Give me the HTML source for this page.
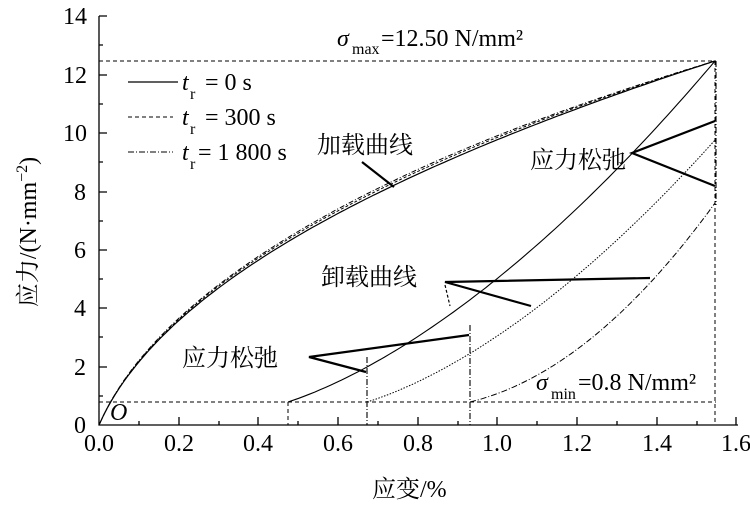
<!DOCTYPE html>
<html><head><meta charset="utf-8"><style>body{margin:0;background:#fff}svg{display:block}text{font-family:"Liberation Serif","Times New Roman",Times,"Noto Serif CJK SC",serif}</style></head><body>
<svg id="s" width="750" height="508" viewBox="0 0 750 508" xmlns="http://www.w3.org/2000/svg">
<g stroke="#000" fill="none" stroke-width="1.3">
<path d="M99,16V425H738"/>
<path d="M99,16h8M99,75h8M99,133h8M99,192h8M99,250h8M99,308h8M99,367h8M99,45h4M99,104h4M99,162h4M99,221h4M99,279h4M99,337h4M99,396h4"/>
<path d="M179,425v-8M258,425v-8M338,425v-8M418,425v-8M497,425v-8M577,425v-8M657,425v-8M736,425v-8M139,425v-4M219,425v-4M298,425v-4M378,425v-4M458,425v-4M537,425v-4M617,425v-4M697,425v-4"/>
</g>
<g font-size="24">
<text x="80" y="433" text-anchor="middle">0</text><text x="80" y="375" text-anchor="middle">2</text><text x="80" y="316" text-anchor="middle">4</text><text x="80" y="258" text-anchor="middle">6</text><text x="80" y="200" text-anchor="middle">8</text><text x="75" y="141" text-anchor="middle">10</text><text x="75" y="83" text-anchor="middle">12</text><text x="75" y="24" text-anchor="middle">14</text>
<text x="99" y="451" text-anchor="middle">0.0</text><text x="179" y="451" text-anchor="middle">0.2</text><text x="258" y="451" text-anchor="middle">0.4</text><text x="338" y="451" text-anchor="middle">0.6</text><text x="418" y="451" text-anchor="middle">0.8</text><text x="497" y="451" text-anchor="middle">1.0</text><text x="577" y="451" text-anchor="middle">1.2</text><text x="657" y="451" text-anchor="middle">1.4</text><text x="736" y="451" text-anchor="middle">1.6</text>
</g>
<g stroke="#000" fill="none" stroke-width="1" stroke-dasharray="4,3">
<path d="M99,61H716M99,402H716M715,61V425M288,402V425"/>
</g>
<g stroke="#000" fill="none" stroke-width="1.1" stroke-dasharray="6,2,1,2">
<path d="M367,357V425M470,325V425M716,61V205"/>
</g>
<g id="curves" fill="none" stroke="#000"></g>
<g stroke="#000" stroke-width="2.2" fill="none">
<path d="M715,121L632,153L715,186"/>
<path d="M362,162L394,187"/>
<path d="M650,278L445,282L531,306"/>
<path d="M469,335L309,357L366,372"/>
</g>
<path d="M445,285L450,306" stroke="#000" stroke-width="1.2" stroke-dasharray="3,2"/>
<path d="M128,82H178" stroke="#000" stroke-width="1.2"/>
<path d="M128,117H173" stroke="#000" stroke-width="1" stroke-dasharray="4,3"/>
<path d="M128,152H173" stroke="#000" stroke-width="1" stroke-dasharray="6,2,1,2"/>
<g font-size="24">
<text x="182" y="90" font-style="italic">t</text><text x="190" y="99" font-size="16">r</text><text x="205" y="90">= 0 s</text>
<text x="182" y="125" font-style="italic">t</text><text x="190" y="134" font-size="16">r</text><text x="205" y="125">= 300 s</text>
<text x="182" y="160" font-style="italic">t</text><text x="190" y="169" font-size="16">r</text><text x="198" y="160">= 1 800 s</text>
<text x="337" y="46" font-style="italic">σ</text><text x="352" y="54" font-size="16">max</text><text x="381" y="46">=12.50 N/mm²</text>
<text x="536" y="390" font-style="italic">σ</text><text x="551" y="399" font-size="16">min</text><text x="578" y="390">=0.8 N/mm²</text>
<text x="110" y="420" font-style="italic">O</text>
<text x="317" y="153">加载曲线</text>
<text x="530" y="168">应力松弛</text>
<text x="321" y="285">卸载曲线</text>
<text x="182" y="366">应力松弛</text>
<text x="372" y="497">应变/%</text>
<text transform="translate(36,232) rotate(-90)" text-anchor="middle">应力/(N·mm<tspan font-size="16" dy="-9">−2</tspan><tspan dy="9">)</tspan></text>
</g>
</svg>
<script>
var g=document.getElementById("curves");
function add(p,w,da){var e=document.createElementNS("http://www.w3.org/2000/svg","path");e.setAttribute("d","M"+p.map(function(q){return q[0].toFixed(1)+","+q[1].toFixed(1)}).join(" L"));e.setAttribute("stroke-width",w);e.setAttribute("stroke-linejoin","round");if(da)e.setAttribute("stroke-dasharray",da);g.appendChild(e);}
function load(dx,dy){var p=[],N=150,c=0.03,n=0.45,c0=Math.pow(c,n),D=Math.pow(1+c,n)-c0;
for(var i=0;i<=N;i++){var s=i/N,v=(Math.pow(s+c,n)-c0)/D;var k=Math.sin(Math.PI*s);p.push([99+616*s-dx*k,425-364*v-dy*k]);}return p;}
add(load(0,0),1.2);add(load(1.5,2),1,"3,2");add(load(2.5,3.5),1,"5,2,1,2");
function un(x0,x1,y1,a,m){var p=[];for(var i=0;i<=80;i++){var t=i/80;p.push([x0+(x1-x0)*t,402-(402-y1)*(a*t+(1-a)*Math.pow(t,m))]);}return p;}
add(un(288,715,61,0.4,1.8),1.1);
add(un(367,715,140,0.4,1.8),1,"1.5,1.5");
add(un(470,715,203,0.3,2),1,"6,2,1,2");
</script>
</body></html>
